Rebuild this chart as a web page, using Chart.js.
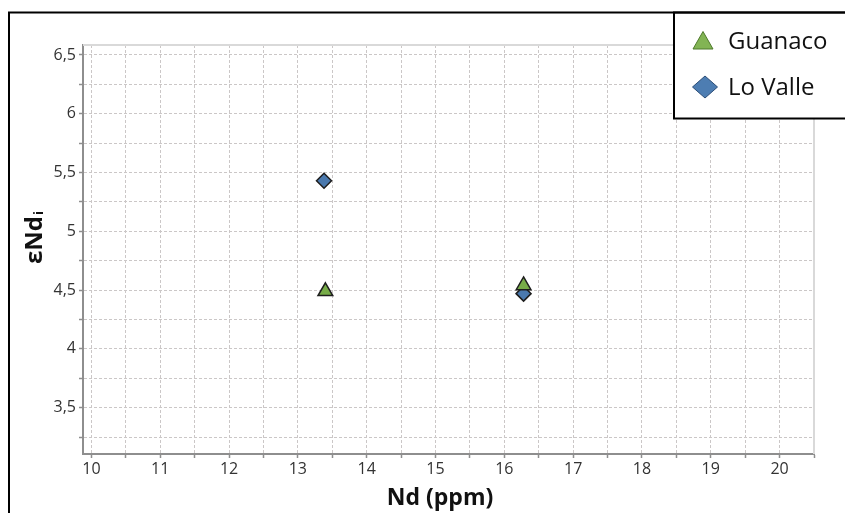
<!DOCTYPE html>
<html>
<head>
<meta charset="utf-8">
<script src="https://cdn.jsdelivr.net/npm/chart.js@4/dist/chart.umd.min.js"></script>
<style>
  html, body { margin: 0; padding: 0; background: #ffffff; }
  #wrap { width: 845px; height: 513px; position: relative; }
</style>
</head>
<body>
<div id="wrap"><canvas id="chart" width="845" height="513"></canvas></div>
<script>
// Series: Nd concentration (ppm) vs initial epsilon-Nd
const seriesNames = ['Guanaco', 'Lo Valle'];
const guanacoNd  = [13.40, 16.28];
const guanacoEps = [4.49, 4.54];
const loValleNd  = [13.38, 16.28];
const loValleEps = [5.43, 4.47];

// Labelled ticks (minor ticks in between stay unlabelled)
const xTickValues = [10, 11, 12, 13, 14, 15, 16, 17, 18, 19, 20];
const xTickLabels = ['10', '11', '12', '13', '14', '15', '16', '17', '18', '19', '20'];
const yTickValues = [3.5, 4, 4.5, 5, 5.5, 6, 6.5];
const yTickLabels = ['3,5', '4', '4,5', '5', '5,5', '6', '6,5'];

const xTitle = 'Nd (ppm)';
const yTitleMain = 'εNd';
const yTitleSub = 'i';

const colors = {
  guanaco: '#77ac48',
  loValle: '#4a79ae',
  markerEdge: '#1e1e1e',
  grid: '#cbc7c7',
  axis: '#8e8e8e',
  tickText: '#333333'
};

const FONT = "'Open Sans', 'DejaVu Sans', sans-serif";

function toPoints(xs, ys) {
  return xs.map((x, i) => ({ x: x, y: ys[i] }));
}

function labelFor(values, labels, v) {
  for (let i = 0; i < values.length; i++) {
    if (Math.abs(values[i] - v) < 1e-6) return labels[i];
  }
  return '';
}

// Plot frame (top/right), axis titles, legend box and the outer figure frame
const decorPlugin = {
  id: 'decor',
  beforeDatasetsDraw(chart) {
    const { ctx, chartArea: a } = chart;
    ctx.save();
    ctx.strokeStyle = '#d9d9d9';
    ctx.lineWidth = 2;
    ctx.beginPath();
    ctx.moveTo(a.left, a.top);
    ctx.lineTo(a.right, a.top);
    ctx.lineTo(a.right, a.bottom);
    ctx.stroke();
    ctx.restore();
  },
  afterDraw(chart) {
    const { ctx } = chart;
    ctx.save();

    // x-axis title
    ctx.fillStyle = '#111111';
    ctx.font = "bold 23px " + FONT;
    ctx.textAlign = 'center';
    ctx.textBaseline = 'alphabetic';
    ctx.fillText(xTitle, 440, 505);

    // y-axis title, rotated, with subscript
    ctx.save();
    ctx.translate(42, 264);
    ctx.rotate(-Math.PI / 2);
    ctx.textAlign = 'left';
    ctx.font = "bold 24px " + FONT;
    ctx.fillText(yTitleMain, 0, 0);
    const w = ctx.measureText(yTitleMain).width;
    ctx.font = "bold 13px " + FONT;
    ctx.fillText(yTitleSub, w + 1, 1);
    ctx.restore();

    // legend box
    ctx.fillStyle = '#ffffff';
    ctx.fillRect(674, 12, 200, 107);
    ctx.strokeStyle = '#000000';
    ctx.lineWidth = 2;
    ctx.strokeRect(674, 12.5, 200, 106);

    // legend markers
    ctx.lineWidth = 1;
    ctx.fillStyle = '#82b454';
    ctx.strokeStyle = '#4f7a2c';
    ctx.beginPath();
    ctx.moveTo(703, 31.5);
    ctx.lineTo(713, 49);
    ctx.lineTo(693, 49);
    ctx.closePath();
    ctx.fill();
    ctx.stroke();

    ctx.fillStyle = '#4d7db2';
    ctx.strokeStyle = '#2c4e78';
    ctx.beginPath();
    ctx.moveTo(705, 76);
    ctx.lineTo(717.5, 87);
    ctx.lineTo(705, 98);
    ctx.lineTo(692.5, 87);
    ctx.closePath();
    ctx.fill();
    ctx.stroke();

    // legend labels
    ctx.fillStyle = '#111111';
    ctx.font = "24px " + FONT;
    ctx.textAlign = 'left';
    ctx.textBaseline = 'alphabetic';
    ctx.fillText(seriesNames[0], 728, 49);
    ctx.fillText(seriesNames[1], 728, 95);

    // outer figure frame
    ctx.strokeStyle = '#000000';
    ctx.lineWidth = 2;
    ctx.strokeRect(9, 12.5, 900, 600);

    ctx.restore();
  }
};

new Chart(document.getElementById('chart'), {
  type: 'scatter',
  data: {
    datasets: [
      {
        label: seriesNames[0],
        data: toPoints(guanacoNd, guanacoEps),
        pointStyle: 'triangle',
        pointRadius: 8.5,
        pointHoverRadius: 8.5,
        backgroundColor: colors.guanaco,
        borderColor: colors.markerEdge,
        borderWidth: 1.5
      },
      {
        label: seriesNames[1],
        data: toPoints(loValleNd, loValleEps),
        pointStyle: 'rectRot',
        pointRadius: 7.5,
        pointHoverRadius: 7.5,
        backgroundColor: colors.loValle,
        borderColor: colors.markerEdge,
        borderWidth: 1.5
      }
    ]
  },
  options: {
    responsive: false,
    animation: false,
    devicePixelRatio: 1,
    layout: { padding: { left: 23, top: 45, right: 31, bottom: 19 } },
    plugins: {
      legend: { display: false },
      tooltip: { enabled: false }
    },
    scales: {
      x: {
        type: 'linear',
        min: 9.878,
        max: 20.5,
        afterFit(scale) { scale.height = 40; },
        grid: {
          color: colors.grid,
          lineWidth: 1,
          tickLength: 4,
          tickColor: colors.axis,
          tickWidth: 1.5
        },
        border: { display: true, color: colors.axis, width: 2, dash: [3, 2] },
        ticks: {
          stepSize: 0.5,
          includeBounds: false,
          autoSkip: false,
          maxRotation: 0,
          padding: 2,
          color: colors.tickText,
          font: { family: FONT, size: 16 },
          callback: (v) => labelFor(xTickValues, xTickLabels, v)
        }
      },
      y: {
        type: 'linear',
        min: 3.106,
        max: 6.585,
        afterFit(scale) { scale.width = 60; },
        grid: {
          color: colors.grid,
          lineWidth: 1,
          tickLength: 4,
          tickColor: colors.axis,
          tickWidth: 1.5
        },
        border: { display: true, color: colors.axis, width: 2, dash: [3, 2] },
        ticks: {
          stepSize: 0.25,
          includeBounds: false,
          autoSkip: false,
          padding: 3,
          color: colors.tickText,
          font: { family: FONT, size: 16 },
          callback: (v) => labelFor(yTickValues, yTickLabels, v)
        }
      }
    }
  },
  plugins: [decorPlugin]
});
</script>
</body>
</html>
